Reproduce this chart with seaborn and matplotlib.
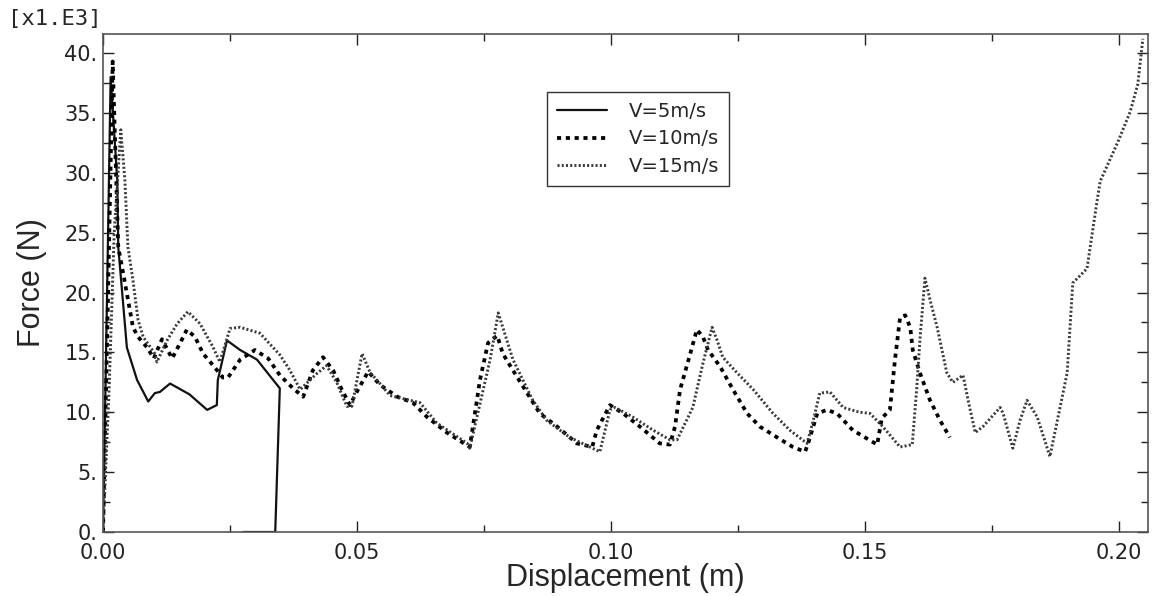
import numpy as np
import pandas as pd
import seaborn as sns
import matplotlib.pyplot as plt
from matplotlib.ticker import MultipleLocator, FuncFormatter

# displacement (m) vs force (x1.E3 N)
disp_5 = [0.0, 0.0008, 0.0015, 0.0028, 0.0030, 0.0047, 0.0067, 0.0089, 0.0102, 0.0112,
          0.0132, 0.0170, 0.0205, 0.0224, 0.0226, 0.0244, 0.0270, 0.0303, 0.0348, 0.0339,
          0.0276]
force_5 = [0.0, 20.0, 38.0, 29.4, 23.8, 15.4, 12.7, 10.9, 11.6, 11.7,
           12.4, 11.5, 10.2, 10.6, 12.7, 16.0, 15.2, 14.4, 12.0, 0.0,
           0.0]

disp_10 = [0.0, 0.0010, 0.0019, 0.0030, 0.0041, 0.0059, 0.0069, 0.0087, 0.0100, 0.0116,
           0.0136, 0.0152, 0.0165, 0.0181, 0.0197, 0.0217, 0.0236, 0.0246, 0.0270, 0.0299,
           0.0325, 0.0348, 0.0374, 0.0394, 0.0413, 0.0433, 0.0453, 0.0470, 0.0486, 0.0502,
           0.0522, 0.0545, 0.0579, 0.0610, 0.0638, 0.0677, 0.0722, 0.0742, 0.0758, 0.0776,
           0.0787, 0.0807, 0.0835, 0.0860, 0.0894, 0.0933, 0.0963, 0.0972, 0.0998, 0.1024,
           0.1057, 0.1096, 0.1116, 0.1126, 0.1136, 0.1156, 0.1169, 0.1181, 0.1191, 0.1215,
           0.1240, 0.1268, 0.1293, 0.1327, 0.1358, 0.1382, 0.1388, 0.1406, 0.1425, 0.1445,
           0.1476, 0.1524, 0.1533, 0.1549, 0.1559, 0.1569, 0.1579, 0.1589, 0.1594, 0.1608,
           0.1628, 0.1648, 0.1667]
force_10 = [0.0, 20.0, 39.3, 23.8, 21.3, 17.1, 16.3, 15.4, 14.5, 16.1,
            14.5, 15.8, 16.9, 16.3, 14.9, 13.9, 12.9, 12.9, 14.4, 15.2,
            14.5, 13.1, 12.0, 11.3, 13.5, 14.6, 13.5, 11.9, 10.6, 11.9,
            13.4, 12.3, 11.3, 10.8, 9.6, 8.3, 7.1, 12.7, 15.8, 16.4,
            14.9, 13.5, 11.6, 9.9, 8.8, 7.4, 7.1, 8.5, 10.6, 9.9,
            8.8, 7.4, 7.3, 8.8, 11.9, 14.9, 16.9, 16.3, 15.2, 13.8,
            11.9, 9.9, 8.8, 7.9, 7.1, 6.7, 7.4, 9.9, 10.2, 9.9,
            8.5, 7.3, 9.5, 10.2, 14.4, 17.9, 18.1, 17.1, 15.2, 13.3,
            11.0, 9.3, 7.9]

disp_15 = [0.0, 0.0012, 0.0022, 0.0035, 0.0043, 0.0049, 0.0059, 0.0069, 0.0079, 0.0102,
           0.0106, 0.0126, 0.0146, 0.0167, 0.0191, 0.0217, 0.0230, 0.0250, 0.0270, 0.0309,
           0.0348, 0.0368, 0.0388, 0.0420, 0.0440, 0.0460, 0.0480, 0.0490, 0.0510, 0.0526,
           0.0539, 0.0565, 0.0624, 0.0657, 0.0717, 0.0722, 0.0762, 0.0778, 0.0807, 0.0846,
           0.0874, 0.0919, 0.0978, 0.0998, 0.1008, 0.1043, 0.1083, 0.1116, 0.1130, 0.1161,
           0.1181, 0.1199, 0.1209, 0.1220, 0.1248, 0.1280, 0.1319, 0.1352, 0.1386, 0.1398,
           0.1411, 0.1431, 0.1457, 0.1490, 0.1510, 0.1535, 0.1569, 0.1593, 0.1602, 0.1608,
           0.1618, 0.1628, 0.1642, 0.1661, 0.1673, 0.1693, 0.1703, 0.1717, 0.1732, 0.1766,
           0.1772, 0.1791, 0.1805, 0.1819, 0.1839, 0.1864, 0.1898, 0.1909, 0.1937, 0.1957,
           0.1963, 0.1998, 0.2022, 0.2037, 0.2047]
force_15 = [0.0, 12.0, 25.0, 33.6, 29.4, 23.8, 21.0, 17.7, 16.3, 14.9,
            14.2, 16.0, 17.4, 18.4, 17.4, 15.4, 14.2, 17.0, 17.1, 16.6,
            14.8, 13.5, 11.9, 13.2, 13.9, 12.5, 10.5, 10.5, 14.9, 13.3,
            12.7, 11.4, 10.8, 9.1, 7.4, 7.0, 14.4, 18.3, 14.4, 11.0,
            9.3, 7.9, 6.7, 10.2, 10.4, 9.6, 8.5, 7.7, 7.7, 10.4,
            14.1, 17.1, 16.0, 14.6, 13.3, 11.9, 9.9, 8.5, 7.4, 9.3,
            11.6, 11.7, 10.4, 10.0, 9.9, 8.8, 7.1, 7.3, 12.1, 16.0,
            21.2, 19.4, 17.1, 13.3, 12.5, 13.1, 11.0, 8.3, 8.8, 10.4,
            9.9, 7.0, 9.3, 11.0, 9.6, 6.3, 13.3, 20.8, 22.0, 27.7,
            29.3, 32.6, 35.1, 37.4, 41.2]

labels = ["V=5m/s", "V=10m/s", "V=15m/s"]

sns.set_theme(style="ticks")
plt.rcParams['font.family'] = ['DejaVu Sans']

fig = plt.figure(figsize=(11.55, 5.96), dpi=100)
ax = fig.add_axes([0.0892, 0.1074, 0.9047, 0.8356])

styles = [
    dict(color="#111111", lw=1.6, ls="-"),
    dict(color="#000000", lw=2.7, ls=(0, (1.1, 1.25))),
    dict(color="#3a3a3a", lw=2.1, ls=(0, (0.7, 0.75))),
]
series = [(disp_5, force_5), (disp_10, force_10), (disp_15, force_15)]
for (xs, ys), lab, st in zip(series, labels, styles):
    df = pd.DataFrame({"disp": xs, "force": ys})
    sns.lineplot(data=df, x="disp", y="force", sort=False, estimator=None,
                 label=lab, ax=ax, **st)

ax.set_xlim(0, 0.2057)
ax.set_ylim(0, 41.6)
ax.xaxis.set_major_locator(MultipleLocator(0.05))
ax.xaxis.set_minor_locator(MultipleLocator(0.025))
ax.yaxis.set_major_locator(MultipleLocator(5))
ax.yaxis.set_minor_locator(MultipleLocator(2.5))
ax.xaxis.set_major_formatter(FuncFormatter(lambda v, p: f"{v:.2f}"))
ax.yaxis.set_major_formatter(FuncFormatter(lambda v, p: f"{v:.0f}."))
ax.tick_params(which="both", direction="in", top=True, right=True, colors="#222222")
ax.tick_params(which="major", length=8, width=1.0, labelsize=15)
ax.tick_params(which="minor", length=5, width=1.0)
ax.tick_params(axis="x", pad=8)
ax.tick_params(axis="y", pad=4)
for s in ax.spines.values():
    s.set_color("#555555")
    s.set_linewidth(1.2)

# the "0." label sits just above the corner, as in the original
ax.yaxis.get_major_ticks()[0].label1.set_verticalalignment("bottom")

ax.set_xlabel("Displacement (m)", fontsize=22, family="Liberation Sans", labelpad=0)
ax.set_ylabel("Force (N)", fontsize=22, family="Liberation Sans")
ax.yaxis.set_label_coords(-0.054, 0.5)

fig.text(0.007, 0.985, "[x1.E3]", ha="left", va="top", fontsize=16,
         family="DejaVu Sans Mono")

leg = ax.legend(loc="upper left", bbox_to_anchor=(0.425, 0.8835), borderaxespad=0,
                fontsize=14, handlelength=2.6, handletextpad=1.1, labelspacing=0.45,
                borderpad=0.5, fancybox=False, framealpha=1, edgecolor="#333333")
leg.get_frame().set_linewidth(1.0)

fig.savefig("out.png", dpi=100)
